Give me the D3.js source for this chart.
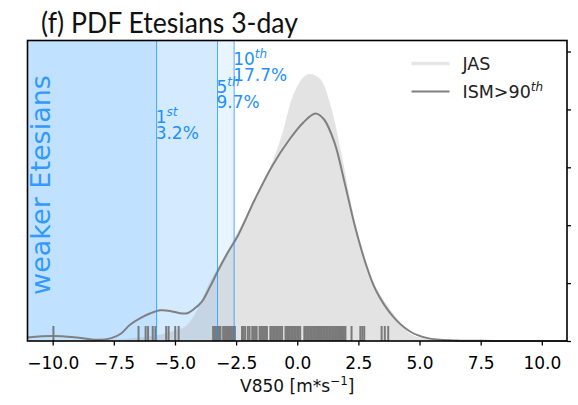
<!DOCTYPE html>
<html>
<head>
<meta charset="utf-8">
<script src="https://cdn.jsdelivr.net/npm/d3@7"></script>
<style>
    body { margin: 0; background: #fff; }
    svg { display: block; }
</style>
</head>
<body>
<svg id="chart"></svg>
<script>
// JAS climatology PDF (grey fill)
const jasX = [-11.03, -9, -8, -7.5, -7, -6.7, -6, -5.5, -5, -4.55, -4.15, -3.6, -3.22, -2.45, -1.75,
    -1.03, -0.6, -0.18, 0.24, 0.52, 0.95, 1.37, 1.8, 2.22, 2.65, 3.2, 3.92, 4.63, 5.3, 6, 7, 8, 11.03];
const jasDensity = [0, 0.0005, 0.001, 0.002, 0.003, 0.005, 0.008, 0.012, 0.018, 0.026, 0.049, 0.1, 0.129,
    0.187, 0.244, 0.308, 0.36, 0.423, 0.455, 0.461, 0.452, 0.406, 0.325, 0.233, 0.158, 0.094, 0.048,
    0.012, 0.004, 0.0015, 0.0005, 0.0002, 0];

// ISM > 90th percentile PDF (grey line)
const ismX = [-11.03, -10, -9, -8.1, -7.6, -7.2, -6.84, -6.4, -6, -5.6, -5.2, -4.8, -4.5, -4.2, -3.9,
    -3.55, -3.22, -2.85, -2.44, -1.74, -1.03, -0.32, 0.24, 0.74, 1.09, 1.52, 1.94, 2.36, 2.79, 3.21,
    3.92, 4.63, 5.33, 6.5, 8, 11.03];
const ismDensity = [0.006, 0.0085, 0.006, 0.002, 0.005, 0.013, 0.028, 0.04, 0.048, 0.053, 0.052, 0.048,
    0.048, 0.056, 0.068, 0.095, 0.123, 0.152, 0.181, 0.244, 0.302, 0.348, 0.377, 0.393, 0.383, 0.343,
    0.273, 0.198, 0.135, 0.088, 0.042, 0.016, 0.005, 0.001, 0.0002, 0];

// individual ISM>90th days (rug)
const ismRug = [-9.97, -6.49, -6.2, -6.1, -5.91, -5.8, -5.36, -5.26, -4.99, -4.85,
    -3.44, -3.38, -3.32, -3.26, -3.2, -3.14, -3.03, -2.97, -2.91, -2.85, -2.79, -2.73, -2.67, -2.61, -2.55,
    -2.26, -2.2, -2.13, -2.02, -1.95, -1.84, -1.78, -1.72,
    -1.66, -1.54, -1.48, -1.42, -1.36, -1.3, -1.24, -1.1, -1.04, -0.98, -0.92, -0.86, -0.8, -0.74, -0.68,
    -0.62, -0.48, -0.42, -0.36, -0.3, -0.24, -0.18, -0.12, -0.06, 0, 0.06, 0.12,
    0.29, 0.35, 0.41, 0.47, 0.53, 0.59, 0.65, 0.71, 0.77, 0.83, 0.89, 0.95, 1.01, 1.07, 1.13, 1.19, 1.25,
    1.31, 1.37, 1.43, 1.49, 1.55, 1.61, 1.67, 1.73, 1.79, 1.85, 1.91, 1.97,
    2.22, 2.58, 2.66, 2.74, 3.45, 3.58, 3.72];

// JAS percentiles and the share of ISM>90th days below them
const percentileValues = [-5.75, -3.26, -2.58];
const percentileRanks = ["1", "5", "10"];
const percentileSuffix = ["st", "th", "th"];
const percentileShares = ["3.2%", "9.7%", "17.7%"];

const xTicks = [-10, -7.5, -5, -2.5, 0, 2.5, 5, 7.5, 10];
const yTicks = [0, 0.1, 0.2, 0.3, 0.4, 0.5];

class EtesiansPdf {

    constructor(el) {
        this.el = d3.select(el);
    }

    draw() {
        const margin = {top: 40.5, right: 11, bottom: 64, left: 27.5},
            width = 578 - margin.left - margin.right,
            height = 405 - margin.top - margin.bottom;
        const blue = "#1e90ff";

        this.el.attr("width", 578).attr("height", 405);

        this.x = d3.scaleLinear().domain([-11.03, 11.03]).range([0, width]);
        this.y = d3.scaleLinear().domain([0, 0.519]).range([height, 0]);

        // title
        this.el.append("text")
            .attr("x", 41)
            .attr("y", 33)
            .attr("font-family", "Lato, sans-serif")
            .attr("font-size", "28px")
            .attr("textLength", 257)
            .attr("lengthAdjust", "spacingAndGlyphs")
            .attr("fill", "#111")
            .text("(f) PDF Etesians 3-day");

        const svg = this.el.append("g")
            .attr("transform", "translate(" + margin.left + "," + margin.top + ")");

        // shaded "weaker" zones, one layer per percentile
        svg.selectAll("rect.span")
            .data(percentileValues)
            .enter().append("rect")
            .attr("class", "span")
            .attr("x", 0)
            .attr("y", 0)
            .attr("width", (d) => this.x(d))
            .attr("height", height)
            .attr("fill", blue)
            .attr("fill-opacity", 0.1);

        // JAS filled pdf
        const jas = jasX.map((v, i) => [v, jasDensity[i]]);
        const area = d3.area()
            .curve(d3.curveCatmullRom)
            .x((d) => this.x(d[0]))
            .y0(height)
            .y1((d) => this.y(d[1]));
        svg.append("path")
            .datum(jas)
            .attr("d", area)
            .attr("fill", "#b0b0b0")
            .attr("fill-opacity", 0.35);

        // ISM line
        const ism = ismX.map((v, i) => [v, ismDensity[i]]);
        const line = d3.line()
            .curve(d3.curveCatmullRom)
            .x((d) => this.x(d[0]))
            .y((d) => this.y(d[1]));
        svg.append("path")
            .datum(ism)
            .attr("d", line)
            .attr("fill", "none")
            .attr("stroke", "#808080")
            .attr("stroke-width", 2);

        // rug
        svg.selectAll("line.rug")
            .data(ismRug)
            .enter().append("line")
            .attr("class", "rug")
            .attr("x1", (d) => this.x(d))
            .attr("x2", (d) => this.x(d))
            .attr("y1", height - 15)
            .attr("y2", height)
            .attr("stroke", "#7a7a7a")
            .attr("stroke-width", 2);

        // percentile lines
        svg.selectAll("line.pct")
            .data(percentileValues)
            .enter().append("line")
            .attr("class", "pct")
            .attr("x1", (d) => this.x(d))
            .attr("x2", (d) => this.x(d))
            .attr("y1", 0)
            .attr("y2", height)
            .attr("stroke", blue)
            .attr("stroke-opacity", 0.75)
            .attr("stroke-width", 1);

        // percentile labels (two lines each, staggered)
        const labelTop = [82.5, 52.2, 24.5];
        percentileValues.forEach((p, i) => {
            const t = svg.append("text")
                .attr("font-family", "DejaVu Sans, sans-serif")
                .attr("font-size", "17px")
                .attr("fill", blue);
            t.append("tspan")
                .attr("x", this.x(p) - 1)
                .attr("y", labelTop[i])
                .text(percentileRanks[i]);
            t.append("tspan")
                .attr("dy", -7)
                .attr("font-size", "12px")
                .attr("font-style", "italic")
                .text(percentileSuffix[i]);
            t.append("tspan")
                .attr("x", this.x(p) - 1)
                .attr("y", labelTop[i] + 15.5)
                .text(percentileShares[i]);
        });

        // vertical annotation
        svg.append("text")
            .attr("transform", "translate(22.5," + (185 - margin.top) + ") rotate(-90)")
            .attr("text-anchor", "middle")
            .attr("font-family", "DejaVu Sans, sans-serif")
            .attr("font-size", "27px")
            .attr("fill", blue)
            .attr("fill-opacity", 0.9)
            .text("weaker Etesians");

        // x axis
        const xAxis = svg.append("g")
            .attr("transform", "translate(0," + height + ")")
            .call(d3.axisBottom(this.x).tickValues(xTicks).tickSize(4.5).tickPadding(11)
                .tickFormat(d3.format(".1f")));
        xAxis.select(".domain").remove();
        xAxis.selectAll("line").attr("stroke", "#000").attr("stroke-width", 1.3);
        xAxis.selectAll("text")
            .attr("font-family", "DejaVu Sans, sans-serif")
            .attr("font-size", "17px")
            .attr("fill", "#000");

        // right axis ticks (labels fall outside the figure)
        const yAxis = svg.append("g")
            .attr("transform", "translate(" + width + ",0)")
            .call(d3.axisRight(this.y).tickValues(yTicks).tickSize(4).tickFormat(""));
        yAxis.select(".domain").remove();
        yAxis.selectAll("line").attr("stroke", "#000").attr("stroke-width", 1.3);

        // x label
        const xl = svg.append("text")
            .attr("x", width / 2)
            .attr("y", height + 51)
            .attr("text-anchor", "middle")
            .attr("font-family", "DejaVu Sans, sans-serif")
            .attr("font-size", "17px")
            .attr("fill", "#111");
        xl.append("tspan").text("V850 [m*s");
        xl.append("tspan").attr("dy", -7).attr("font-size", "12px").text("\u22121");
        xl.append("tspan").attr("dy", 7).text("]");

        // frame
        svg.append("rect")
            .attr("width", width)
            .attr("height", height)
            .attr("fill", "none")
            .attr("stroke", "#000")
            .attr("stroke-width", 1.6);

        // legend
        const legend = svg.append("g")
            .attr("font-family", "DejaVu Sans, sans-serif")
            .attr("font-size", "17.5px")
            .attr("fill", "#222");
        legend.append("line")
            .attr("x1", 384).attr("x2", 422).attr("y1", 23).attr("y2", 23)
            .attr("stroke", "#e6e6e6").attr("stroke-width", 3.5);
        legend.append("text").attr("x", 435).attr("y", 29).text("JAS");
        legend.append("line")
            .attr("x1", 384).attr("x2", 422).attr("y1", 51).attr("y2", 51)
            .attr("stroke", "#808080").attr("stroke-width", 2);
        const lt = legend.append("text").attr("x", 435).attr("y", 57);
        lt.append("tspan").text("ISM>90");
        lt.append("tspan").attr("dy", -7).attr("font-size", "12px").attr("font-style", "italic").text("th");
    }

}

new EtesiansPdf("#chart").draw();
</script>
</body>
</html>
